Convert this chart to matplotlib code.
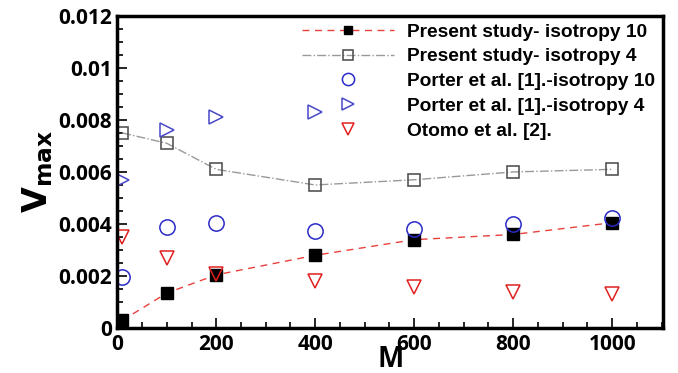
import matplotlib.pyplot as plt
from matplotlib.ticker import MultipleLocator

plt.rcParams['font.family'] = ['Open Sans', 'DejaVu Sans']

# data
M_all = [10, 100, 200, 400, 600, 800, 1000]
M_porter4 = [10, 100, 200, 400]
present_iso10 = [0.0003, 0.00135, 0.00205, 0.0028, 0.0034, 0.0036, 0.00405]
present_iso4 = [0.0075, 0.0071, 0.0061, 0.0055, 0.0057, 0.0060, 0.0061]
porter_iso10 = [0.00197, 0.0039, 0.00403, 0.00375, 0.00382, 0.004, 0.00423]
porter_iso4 = [0.0057, 0.0076, 0.0081, 0.0083]
otomo = [0.0035, 0.0027, 0.0021, 0.0018, 0.0016, 0.0014, 0.0013]

fig = plt.figure(figsize=(6.78, 3.73), dpi=100)
ax = fig.add_axes([0.173, 0.12, 0.805, 0.838])

ax.plot(M_all, present_iso10, '--', color='#e8413c', lw=1, dashes=(5, 4),
        marker='s', ms=8, mfc='black', mec='black', label='Present study- isotropy 10')
ax.plot(M_all, present_iso4, '-.', color='#999999', lw=1,
        marker='s', ms=9, mfc='none', mec='#555555', mew=1.2, label='Present study- isotropy 4')
ax.plot(M_all, porter_iso10, 'o', ms=11, mfc='none', mec='#2a2ac8', mew=1.1,
        label='Porter et al. [1].-isotropy 10')
ax.plot(M_porter4, porter_iso4, '>', ms=10, mfc='none', mec='#4848c8', mew=1.1,
        label='Porter et al. [1].-isotropy 4')
ax.plot(M_all, otomo, 'v', ms=10, mfc='none', mec='#e02020', mew=1.1,
        label='Otomo et al. [2].')

ax.set_xlim(0, 1103)
ax.set_ylim(0, 0.012)
ax.xaxis.set_major_locator(MultipleLocator(200))
ax.xaxis.set_minor_locator(MultipleLocator(50))
ax.yaxis.set_minor_locator(MultipleLocator(0.0005))
ax.set_yticks([0, 0.002, 0.004, 0.006, 0.008, 0.01, 0.012])
ax.set_yticklabels(['0', '0.002', '0.004', '0.006', '0.008', '0.01', '0.012'])
ax.tick_params(which='both', direction='in', top=False, right=False,
               labelsize=15, width=1.2, pad=4)
ax.tick_params(which='major', length=7)
ax.tick_params(which='minor', length=4)
for lab in ax.get_xticklabels() + ax.get_yticklabels():
    lab.set_fontweight('bold')
for s in ax.spines.values():
    s.set_linewidth(2.5)

ax.set_xlabel('M', fontsize=20, fontweight='bold', labelpad=-7)
ax.set_ylabel(r'$\mathbf{V_{max}}$', fontsize=24, labelpad=2)

leg = ax.legend(loc='upper right', frameon=False, handlelength=4.8,
                labelspacing=0.38, borderaxespad=0.0, handletextpad=0.7,
                markerscale=0.8,
                prop={'family': 'Liberation Sans', 'weight': 'bold', 'size': 13.8})

fig.savefig('out.png', dpi=100)
